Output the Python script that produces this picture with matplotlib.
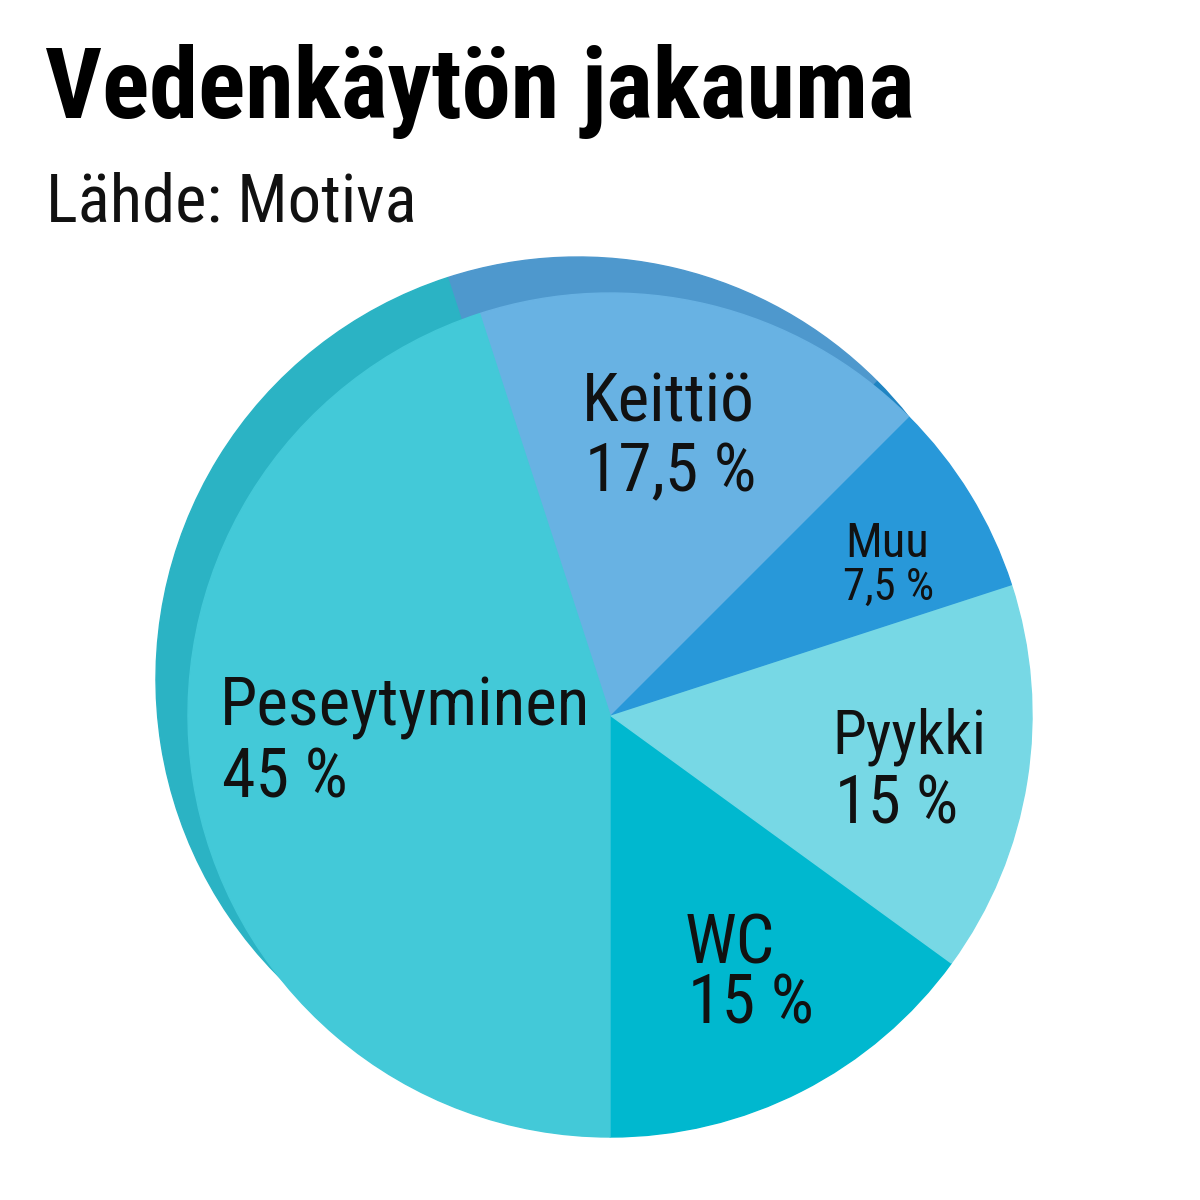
import matplotlib
matplotlib.use("Agg")
import matplotlib.pyplot as plt

# ---- data ----
categories = ["WC", "Pyykki", "Muu", "Keittiö", "Peseytyminen"]
shares = [15, 15, 7.5, 17.5, 45]
share_labels = ["15 %", "15 %", "7,5 %", "17,5 %", "45 %"]
face_colors = ["#00B8CF", "#77D8E5", "#2898D9", "#68B2E3", "#43C9D8"]
rim_colors = ["#00A5BA", "#5FC3D1", "#1F84C2", "#4E98CD", "#2BB3C4"]

title = "Vedenkäytön jakauma"
subtitle = "Lähde: Motiva"

# ---- layout (image pixel coords: x from left, y from top) ----
W = H = 1200
CX, CY, R = 610, 715, 422
RIM_SHIFT = (-32, -36)
RIM_GROW = 0
# (x_left, baseline_y, size) for name line and share line
label_layout = [
    ((685, 963, 49), (688, 1023, 49)),   # WC
    ((832, 753, 44), (835, 823, 48)),    # Pyykki
    ((845, 557, 35), (843, 600, 32)),    # Muu
    ((582, 422, 48.5), (585, 491, 48.5)),  # Keittiö
    ((220, 725, 48.5), (222, 797, 49)),  # Peseytyminen
]

FONT = "Roboto Condensed"
TXT = "#111111"

fig = plt.figure(figsize=(12, 12), dpi=100)
ax = fig.add_axes([0, 0, 1, 1])

def Y(y):
    return H - y

# shadow / rim disc
rim_wedges, _ = ax.pie(shares, colors=rim_colors, startangle=270, counterclock=True,
                       center=(CX + RIM_SHIFT[0], Y(CY + RIM_SHIFT[1])), radius=R + RIM_GROW,
                       frame=True, wedgeprops=dict(linewidth=1))
for w, c in zip(rim_wedges, rim_colors):
    w.set_edgecolor(c)
    w.set_zorder(1)

# front disc
wedges, _ = ax.pie(shares, colors=face_colors, startangle=270, counterclock=True,
                   center=(CX, Y(CY)), radius=R, frame=True,
                   wedgeprops=dict(linewidth=1))
for w, c in zip(wedges, face_colors):
    w.set_edgecolor(c)
    w.set_zorder(2)

ax.set_xlim(0, W)
ax.set_ylim(0, H)
ax.set_aspect("equal")
ax.axis("off")

for name, lab, (l1, l2) in zip(categories, share_labels, label_layout):
    ax.text(l1[0], Y(l1[1]), name, fontsize=l1[2], family=FONT, color=TXT,
            ha="left", va="baseline", zorder=5)
    ax.text(l2[0], Y(l2[1]), lab, fontsize=l2[2], family=FONT, color=TXT,
            ha="left", va="baseline", zorder=5)

ax.text(45, Y(118), title, fontsize=71, family=FONT, fontweight="bold", color="#000000",
        ha="left", va="baseline")
ax.text(46, Y(222), subtitle, fontsize=48, family=FONT, color=TXT,
        ha="left", va="baseline")

fig.savefig("out.png", dpi=100)
